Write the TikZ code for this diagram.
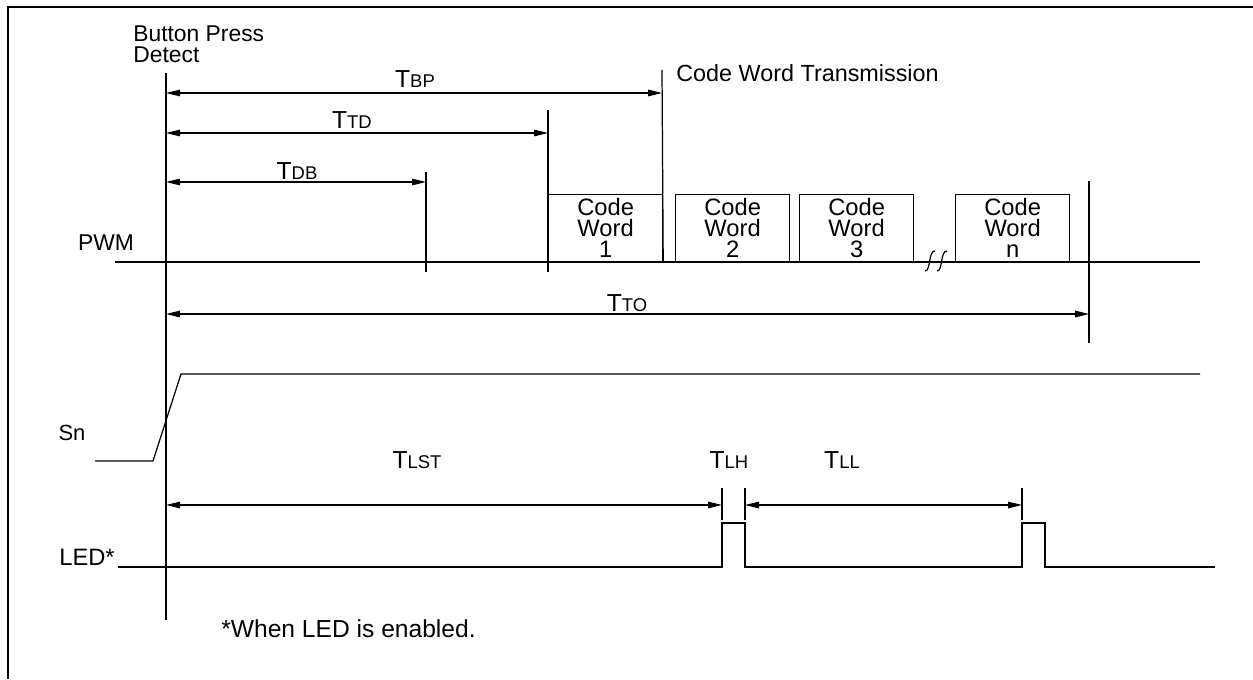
\documentclass[tikz,border=0pt]{standalone}
\usepackage{fontspec}
\setmainfont{Liberation Sans}
\usetikzlibrary{arrows.meta}

% timing symbol with small subscript letters
\newcommand{\tsym}[1]{T{\fontsize{10.5}{10.5}\selectfont #1}}

\begin{document}
\begin{tikzpicture}[x=0.02cm, y=-0.02cm,
        sig/.style={line width=0.7pt},
        dim/.style={<->, >={Triangle[length=0.28cm, width=0.13cm]}, line width=0.7pt},
        txt/.style={font=\fontsize{13}{13}\selectfont, inner sep=0pt},
        tlab/.style={font=\fontsize{14}{14}\selectfont, inner sep=0pt},
        word/.style={draw, line width=0.7pt, minimum width=2.28cm, minimum height=1.34cm, inner sep=0pt, align=center, anchor=south west, font=\fontsize{13.5}{12}\selectfont}
    ]
    \useasboundingbox (0,0) rectangle (1253,679);

    % --- Frame ---
    \draw[line width=1.7pt] (8,679) -- (8,7) -- (1253,7);

    % --- Button press reference ---
    \node[font=\fontsize{13}{12}\selectfont, inner sep=0pt, align=left, anchor=south west] (bpd) at (133,63) {Button Press\\Detect};
    \coordinate (bpTop) at (166,73);
    \coordinate (bpBot) at (166,620);
    \draw[sig] (bpTop) -- (bpBot);

    % --- PWM line and code words ---
    \node[txt] (pwm) at (106,243) {PWM};
    \coordinate (pwmA) at (115,262);
    \coordinate (pwmB) at (1200,262);
    \draw[sig] (pwmA) -- (pwmB);
    \node[word] (cw1) at (548,262) {Code\\Word\\1};
    \node[word] (cw2) at (675,262) {Code\\Word\\2};
    \node[word] (cw3) at (799,262) {Code\\Word\\3};
    \node[word] (cwn) at (955,262) {Code\\Word\\n};
    \draw[sig] (925,271) .. controls (931,271) and (928,251) .. (935,251);
    \draw[sig] (937,271) .. controls (943,271) and (940,251) .. (947,251);

    % --- Timing marks ---
    \coordinate (bpEnd) at (662,70);
    \draw[sig] (bpEnd) -- (cw1.south east);
    \node[font=\fontsize{13.3}{13}\selectfont, inner sep=0pt, anchor=west] (cwt) at (676,73) {Code Word Transmission};
    \coordinate (tdTop) at (548,110);
    \coordinate (tdBot) at (548,272);
    \draw[sig] (tdTop) -- (tdBot);
    \coordinate (dbTop) at (426,172);
    \coordinate (dbBot) at (426,272);
    \draw[sig] (dbTop) -- (dbBot);
    \coordinate (toTop) at (1089,181);
    \coordinate (toBot) at (1089,343);
    \draw[sig] (toTop) -- (toBot);

    % --- Dimensions ---
    \draw[dim] (bpTop |- 0,93) -- (bpEnd |- 0,93);
    \node[tlab] (tbp) at (415,79) {\tsym{BP}};
    \draw[dim] (bpTop |- 0,133) -- (tdTop |- 0,133);
    \node[tlab] (ttd) at (352,120) {\tsym{TD}};
    \draw[dim] (bpTop |- 0,182) -- (dbTop |- 0,182);
    \node[tlab] (tdb) at (297,171) {\tsym{DB}};
    \draw[dim] (bpTop |- 0,314) -- (toTop |- 0,314);
    \node[tlab] (tto) at (627,303) {\tsym{TO}};

    % --- Sn ---
    \node[font=\fontsize{12.5}{12.5}\selectfont, inner sep=0pt] (sn) at (72,433) {Sn};
    \draw[sig] (95,461) -- (153,461) -- (181,374) -- (1200,374);

    % --- LED ---
    \node[font=\fontsize{13.5}{13.5}\selectfont, inner sep=0pt] (led) at (87,557) {LED*};
    \draw[sig] (118,567) -- (722,567) -- (722,523) -- (745,523) -- (745,567)
        -- (1022,567) -- (1022,523) -- (1045,523) -- (1045,567) -- (1215,567);
    \coordinate (lh1) at (722,488);
    \coordinate (lh2) at (745,488);
    \coordinate (ll2) at (1022,488);
    \draw[sig] (lh1) -- ++(0,32);
    \draw[sig] (lh2) -- ++(0,32);
    \draw[sig] (ll2) -- ++(0,32);
    \draw[dim] (bpTop |- 0,505) -- (lh1 |- 0,505);
    \draw[dim] (lh2 |- 0,505) -- (ll2 |- 0,505);
    \node[tlab] (tlst) at (417,460) {\tsym{LST}};
    \node[tlab] (tlh) at (729,460) {\tsym{LH}};
    \node[tlab] (tll) at (842,460) {\tsym{LL}};

    \node[font=\fontsize{14}{14}\selectfont, inner sep=0pt, anchor=west] (note) at (221,629) {*When LED is enabled.};

\end{tikzpicture}
\end{document}
